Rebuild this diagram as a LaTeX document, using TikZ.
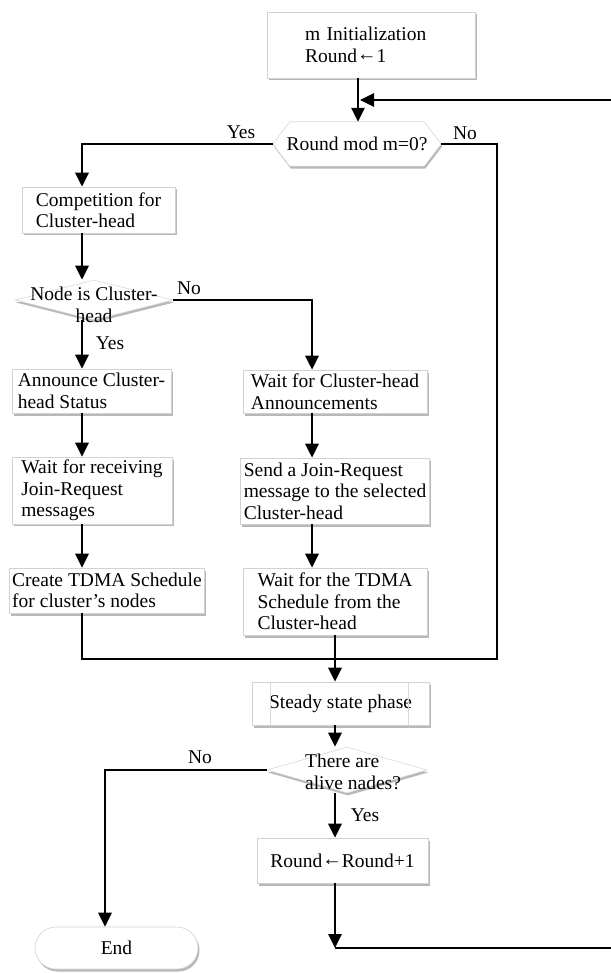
\documentclass[tikz,border=0pt]{standalone}
\usepackage{fontspec}
\setmainfont{Liberation Serif}
\usepackage{tikz}
\usetikzlibrary{arrows.meta}
\usetikzlibrary{shapes.geometric}
\usetikzlibrary{shadows}
\usetikzlibrary{backgrounds}
\newcommand{\larr}{\raisebox{0.2ex}{←}}

\begin{document}
\begin{tikzpicture}[x=1pt,y=-1pt,
  box/.style={rectangle,draw=gray!35,line width=0.6pt,fill=white,
    drop shadow={shadow xshift=1.5pt,shadow yshift=-2.5pt,fill=black!55},
    inner sep=3pt,align=left},
  dia/.style={diamond,draw=gray!30,line width=0.6pt,fill=white,inner sep=0pt,
    drop shadow={shadow xshift=1pt,shadow yshift=-2.5pt,fill=black!55}},
  arr/.style={line width=2.8pt,-{Triangle[length=14pt,width=13pt]}},
  conn/.style={line width=2.8pt},
  tag/.style={inner sep=0pt}]
\fontsize{19.5}{21.5}\selectfont
\useasboundingbox (0,0) rectangle (610,973);
\begin{scope}[on background layer]
\fill[white] (0,0) rectangle (610,973);
\end{scope}
\coordinate (tx) at (358,0);
\coordinate (lx) at (82,0);
\coordinate (rx) at (312,0);
\coordinate (mx) at (335,0);
\coordinate (ex) at (105,0);
\coordinate (nox) at (497,0);
\coordinate (join) at (335,659);
\coordinate (loopB) at (335,948);
\coordinate (farB) at (620,948);
\coordinate (farT) at (620,100);
\coordinate (loopT) at (360,100);
\node[box,text width=132pt,minimum width=208pt,minimum height=66pt] (init) at (371,45) {m Initialization\\Round\larr1};
\node[minimum width=168pt,minimum height=44pt,inner sep=0pt] (mod) at (357,144) {Round mod m=0?};
\begin{scope}[on background layer]
\draw[draw=gray!30,line width=0.6pt,fill=white,drop shadow={shadow xshift=1pt,shadow yshift=-2.5pt,fill=black!55}]
  (mod.west) -- ([xshift=17pt]mod.north west) -- ([xshift=-17pt]mod.north east) -- (mod.east)
  -- ([xshift=-17pt]mod.south east) -- ([xshift=17pt]mod.south west) -- cycle;
\end{scope}
\node[box,minimum width=153pt,minimum height=46pt] (comp) at (98.5,210) {Competition for\\Cluster-head};
\node[dia,minimum width=158pt,minimum height=40pt,
  label={[align=center,yshift=-5pt]center:Node is Cluster-\\head}] (isch) at (94,300) {};
\node[box,minimum width=159pt,minimum height=44pt] (annc) at (91.5,391) {Announce Cluster-\\head Status};
\node[box,minimum width=160pt,minimum height=65pt] (recv) at (92,490.5) {Wait for receiving\\Join-Request\\messages};
\node[box,minimum width=190pt,minimum height=45pt] (tdma) at (107,590.5) {Create TDMA Schedule\\for cluster’s nodes};
\node[box,minimum width=184pt,minimum height=43pt] (wann) at (335,391.5) {Wait for Cluster-head\\Announcements};
\node[box,minimum width=184pt,minimum height=66pt] (jreq) at (335,491) {Send a Join-Request\\message to the selected\\Cluster-head};
\node[box,minimum width=184pt,minimum height=67pt] (wsch) at (335,601.5) {Wait for the TDMA\\Schedule from the\\Cluster-head};
\node[box,minimum width=177pt,minimum height=43pt] (steady) at (340.5,703.5) {Steady state phase};
\draw[gray!30,line width=0.6pt] ([xshift=19pt]steady.north west) -- ([xshift=19pt]steady.south west);
\draw[gray!30,line width=0.6pt] ([xshift=-21pt]steady.north east) -- ([xshift=-21pt]steady.south east);
\node[dia,minimum width=160pt,minimum height=46pt,
  label={[align=left,xshift=6pt,yshift=-2pt]center:There are\\alive nades?}] (alive) at (347,770) {};
\node[box,minimum width=171pt,minimum height=45pt] (inc) at (342.5,860.5) {Round\larr Round+1};
\node[box,rounded corners=21pt,minimum width=163pt,minimum height=42pt] (stop) at (116.5,948) {End};
\node[tag] (yes1) at (241,132) {Yes};
\node[tag] (no1) at (465,133) {No};
\node[tag] (no2) at (189,288) {No};
\node[tag] (yes2) at (110,343) {Yes};
\node[tag] (no3) at (200,757) {No};
\node[tag] (yes3) at (365,815) {Yes};
\draw[arr] (init.south -| tx) -- (mod.north -| tx);
\draw[arr] (farT) -- (loopT);
\draw[arr] (mod.west) -| (comp.north -| lx);
\draw[conn] (mod.east) -| (nox |- join) -- (join);
\draw[arr] (comp.south -| lx) -- (isch.north -| lx);
\draw[arr] (isch.south -| lx) -- (annc.north -| lx);
\draw[arr] (isch.east) -| (wann.north -| rx);
\draw[arr] (annc.south -| lx) -- (recv.north -| lx);
\draw[arr] (recv.south -| lx) -- (tdma.north -| lx);
\draw[conn] (tdma.south -| lx) |- (join);
\draw[arr] (wann.south -| rx) -- (jreq.north -| rx);
\draw[arr] (jreq.south -| rx) -- (wsch.north -| rx);
\draw[arr] (wsch.south -| mx) -- (steady.north -| mx);
\draw[arr] (steady.south -| mx) -- (alive.north -| mx);
\draw[arr] (alive.west) -| (stop.north -| ex);
\draw[arr] (alive.south -| mx) -- (inc.north -| mx);
\draw[arr] (inc.south -| mx) -- (loopB);
\draw[conn] (loopB) -- (farB) -- (farT);
\end{tikzpicture}
\end{document}
